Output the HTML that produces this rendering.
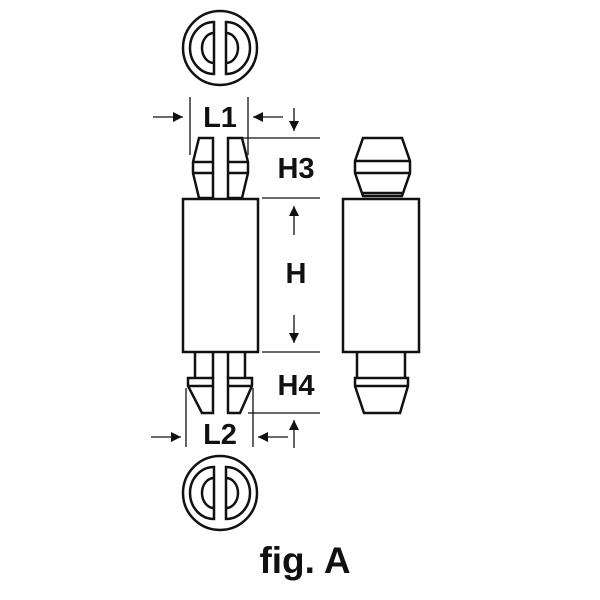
<!DOCTYPE html>
<html><head><style>body{margin:0;background:#fff}svg{display:block}</style></head><body>
<svg width="600" height="600" viewBox="0 0 600 600" xmlns="http://www.w3.org/2000/svg">
<defs><marker id="a" viewBox="0 0 10 10" refX="10" refY="5" markerWidth="10" markerHeight="10" markerUnits="userSpaceOnUse" orient="auto"><path d="M0,0L10,5L0,10z" fill="#111"/></marker></defs>
<g fill="none" stroke="#111" stroke-width="2.5">
<circle cx="220" cy="48" r="37"/>
<path d="M214,22 A24,26 0 0 0 214,74 Z M226,22 A24,26 0 0 1 226,74 Z"/>
<path d="M214,33 A12,15 0 0 0 214,63 M226,33 A12,15 0 0 1 226,63"/>
<circle cx="220" cy="493" r="37"/>
<path d="M214,467 A24,26 0 0 0 214,519 Z M226,467 A24,26 0 0 1 226,519 Z"/>
<path d="M214,478 A12,15 0 0 0 214,508 M226,478 A12,15 0 0 1 226,508"/>
<path d="M199,138L213,138L213,198L199,198L193,173L193,162Z M193,162H213 M193,173H213"/>
<path d="M228,138L242,138L248,162L248,173L242,198L228,198Z M228,162H248 M228,173H248"/>
<rect x="183" y="199" width="75" height="153"/>
<path d="M195,352V378 M213,352V378 M228,352V378 M245,352V378"/>
<path d="M188,378H213V413H202L188,386Z M188,386H213"/>
<path d="M228,378H252V386L240,413H228Z M228,386H252"/>
<path d="M363,138H402L410,161V173L402,196H363L355,173V161Z M355,161H410 M355,173H410 M363,193H402"/>
<rect x="343" y="199" width="76" height="153"/>
<path d="M357,352V378 M405,352V378"/>
<path d="M355,378H408V386L400,413H364L355,386Z M355,386H408"/>
</g>
<g stroke="#111" stroke-width="1.3" fill="none">
<path d="M190,97V155 M248,97V155 M186,388V447 M253,388V447"/>
<path d="M243,138H320 M262,198H320 M262,352H320 M248,413H320"/>
<path d="M153,117H183" marker-end="url(#a)"/>
<path d="M283,117H253" marker-end="url(#a)"/>
<path d="M294,108V131" marker-end="url(#a)"/>
<path d="M294,235V206" marker-end="url(#a)"/>
<path d="M294,315V343" marker-end="url(#a)"/>
<path d="M294,448V420" marker-end="url(#a)"/>
<path d="M151,437H181" marker-end="url(#a)"/>
<path d="M288,437H258" marker-end="url(#a)"/>
</g>
<g font-family="Liberation Sans, sans-serif" font-weight="bold" font-size="29" fill="#111" text-anchor="middle">
<text x="220" y="127">L1</text>
<text x="296" y="178">H3</text>
<text x="296" y="283">H</text>
<text x="296" y="395">H4</text>
<text x="220" y="444">L2</text>
<text x="305" y="573" font-size="37">fig. A</text>
</g>
</svg>
</body></html>
